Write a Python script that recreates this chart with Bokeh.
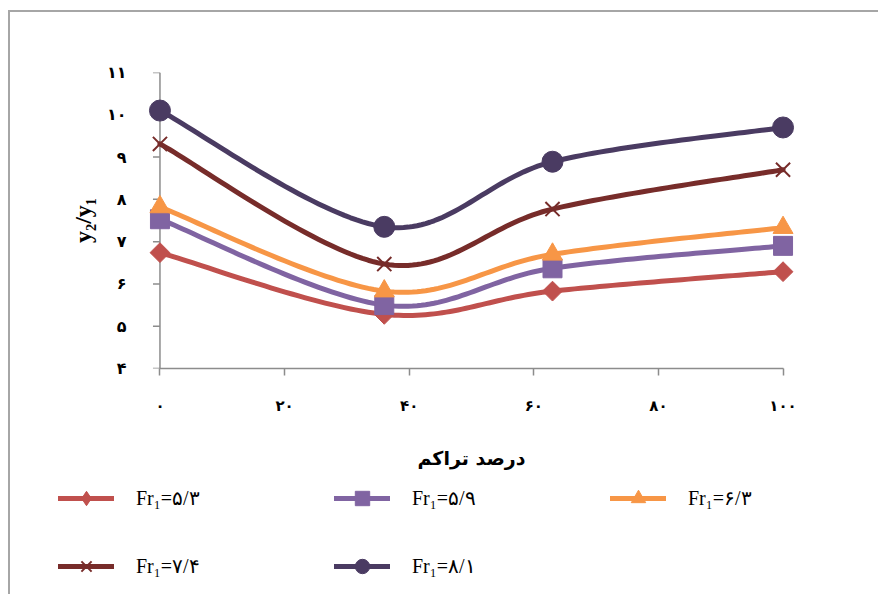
import numpy as np
from bokeh.plotting import figure
from bokeh.models import Range1d, Legend, LegendItem, FixedTicker
from bokeh.embed import file_html
from bokeh.resources import INLINE

# ---- data ----
x_vals = [0, 36, 63, 100]
fr_53 = [6.74, 5.28, 5.83, 6.29]
fr_59 = [7.53, 5.50, 6.37, 6.90]
fr_63 = [7.82, 5.83, 6.70, 7.33]
fr_74 = [9.31, 6.47, 7.77, 8.70]
fr_81 = [10.10, 7.35, 8.89, 9.70]

series_labels = ["Fr₁=۵/۳", "Fr₁=۵/۹", "Fr₁=۶/۳", "Fr₁=۷/۴", "Fr₁=۸/۱"]
x_ticks = [0, 20, 40, 60, 80, 100]
x_tick_labels = ["۰", "۲۰", "۴۰", "۶۰", "۸۰", "۱۰۰"]
y_ticks = [4, 5, 6, 7, 8, 9, 10, 11]
y_tick_labels = ["۴", "۵", "۶", "۷", "۸", "۹", "۱۰", "۱۱"]
x_title = "درصد تراکم"
y_title = "y₂/y₁"

colors = ["#C0504D", "#8064A2", "#F79646", "#772C2A", "#4A3B62"]
markers = ["square", "square", "triangle", "x", "circle"]
legend_markers = ["diamond", "square", "triangle", "x", "circle"]
angles = [np.pi / 4, 0, 0, 0, 0]
sizes = [14, 19, 20, 20, 21]
all_series = [fr_53, fr_59, fr_63, fr_74, fr_81]
AXIS_COLOR = "#8C8C8C"

X_PAD = 2
FRAME_W = 648
TICK_PX = 7
FIG_W = 870


def smooth(xs, ys, n=40):
    P = np.column_stack([xs, ys]).astype(float)
    ext = np.vstack([P[0], P, P[-1]])
    out = []
    t = np.linspace(0, 1, n)[:, None]
    for i in range(len(P) - 1):
        p0, p1, p2, p3 = ext[i], ext[i + 1], ext[i + 2], ext[i + 3]
        c1 = p1 + (p2 - p0) / 6.0
        c2 = p2 - (p3 - p1) / 6.0
        seg = ((1 - t) ** 3) * p1 + 3 * ((1 - t) ** 2) * t * c1 + 3 * (1 - t) * t ** 2 * c2 + t ** 3 * p2
        out.append(seg if i == 0 else seg[1:])
    arr = np.vstack(out)
    return arr[:, 0], arr[:, 1]


def draw(fig, ys, c, m, a, s):
    sx, sy = smooth(x_vals, ys)
    lr = fig.line(sx, sy, line_color=c, line_width=5, line_cap="round", line_join="round")
    if m == "x":
        sr = fig.scatter(x_vals, ys, marker=m, size=s, line_color=c, line_width=2)
    else:
        sr = fig.scatter(x_vals, ys, marker=m, size=s, angle=a, fill_color=c, line_color=c)
    return lr, sr


# ---- main chart ----
x_lo, x_hi = x_ticks[0] - X_PAD, x_ticks[-1] + X_PAD
p = figure(width=FIG_W, height=468, output_backend="svg", toolbar_location=None,
           x_range=Range1d(x_lo, x_hi), y_range=Range1d(y_ticks[0], y_ticks[-1]),
           min_border_left=137, min_border_right=FIG_W - 137 - FRAME_W, min_border_top=60, min_border_bottom=112)
p.outline_line_color = None
p.xgrid.visible = False
p.ygrid.visible = False
p.background_fill_color = "white"
p.border_fill_color = "white"
p.styles = {"border-left": "2px solid #A6A6A6", "border-top": "2px solid #A6A6A6",
            "margin-left": "8px", "margin-top": "10px"}

# vertical axis line and its outward ticks at x = 0
tick_len = TICK_PX * (x_hi - x_lo) / FRAME_W
n_y = len(y_ticks)
p.segment(x0=[x_ticks[0]], y0=[y_ticks[0]], x1=[x_ticks[0]], y1=[y_ticks[-1]],
          line_color=AXIS_COLOR, line_width=1.5)
p.segment(x0=[x_ticks[0]] * n_y, y0=y_ticks, x1=[x_ticks[0] - tick_len] * n_y, y1=y_ticks,
          line_color=AXIS_COLOR, line_width=1.5)

for ys, c, m, a, s in zip(all_series, colors, markers, angles, sizes):
    draw(p, ys, c, m, a, s)

for ax in (p.xaxis[0], p.yaxis[0]):
    ax.axis_line_color = AXIS_COLOR
    ax.axis_line_width = 1.5
    ax.major_tick_line_color = AXIS_COLOR
    ax.major_tick_line_width = 1.5
    ax.major_tick_in = 0
    ax.major_tick_out = 7
    ax.minor_tick_line_color = None
    ax.major_label_text_font = "DejaVu Sans"
    ax.major_label_text_font_style = "bold"
    ax.major_label_text_color = "black"
    ax.axis_label_text_color = "black"

p.xaxis.bounds = (x_ticks[0], x_ticks[-1])
p.xaxis.ticker = FixedTicker(ticks=x_ticks)
p.xaxis.major_label_overrides = {t: l for t, l in zip(x_ticks, x_tick_labels)}
p.xaxis.major_label_text_font_size = "15px"
p.xaxis.major_label_standoff = 21
p.xaxis.axis_label = x_title
p.xaxis.axis_label_text_font = "DejaVu Sans"
p.xaxis.axis_label_text_font_size = "19px"
p.xaxis.axis_label_text_font_style = "bold"
p.xaxis.axis_label_standoff = 29

p.yaxis.ticker = FixedTicker(ticks=y_ticks)
p.yaxis.major_label_overrides = {t: l for t, l in zip(y_ticks, y_tick_labels)}
p.yaxis.axis_line_color = None
p.yaxis.major_tick_line_color = None
p.yaxis.major_tick_out = 0
p.yaxis.major_label_text_font_size = "16px"
p.yaxis.major_label_standoff = 21
p.yaxis.axis_label = y_title
p.yaxis.axis_label_text_font = "Liberation Serif"
p.yaxis.axis_label_text_font_size = "24px"
p.yaxis.axis_label_text_font_style = "bold"
p.yaxis.axis_label_standoff = 8

# ---- legend strip ----
q = figure(width=FIG_W, height=116, output_backend="svg", toolbar_location=None,
           x_axis_type=None, y_axis_type=None,
           x_range=Range1d(1000, 1001), y_range=Range1d(1000, 1001),
           min_border_left=46, min_border_right=0, min_border_top=0, min_border_bottom=0)
q.outline_line_color = None
q.xgrid.visible = False
q.ygrid.visible = False
q.styles = {"display": "block", "border-left": "2px solid #A6A6A6", "margin-left": "8px"}

items = []
for ys, lab, c, m, s in zip(all_series, series_labels, colors, legend_markers, sizes):
    lr, sr = draw(q, ys, c, m, 0, s)
    items.append(LegendItem(label=lab, renderers=[lr, sr]))

legend = Legend(items=items, location="top_left", orientation="horizontal", ncols=3,
                padding=0, margin=2, spacing=32, label_standoff=22,
                glyph_width=56, glyph_height=36, label_width=166, label_height=36,
                label_text_font="Liberation Serif", label_text_font_size="20px",
                label_text_color="black", label_text_baseline="middle",
                border_line_color=None, background_fill_alpha=0)
q.add_layout(legend, "center")

open("out.html", "w").write(file_html([p, q], INLINE))
